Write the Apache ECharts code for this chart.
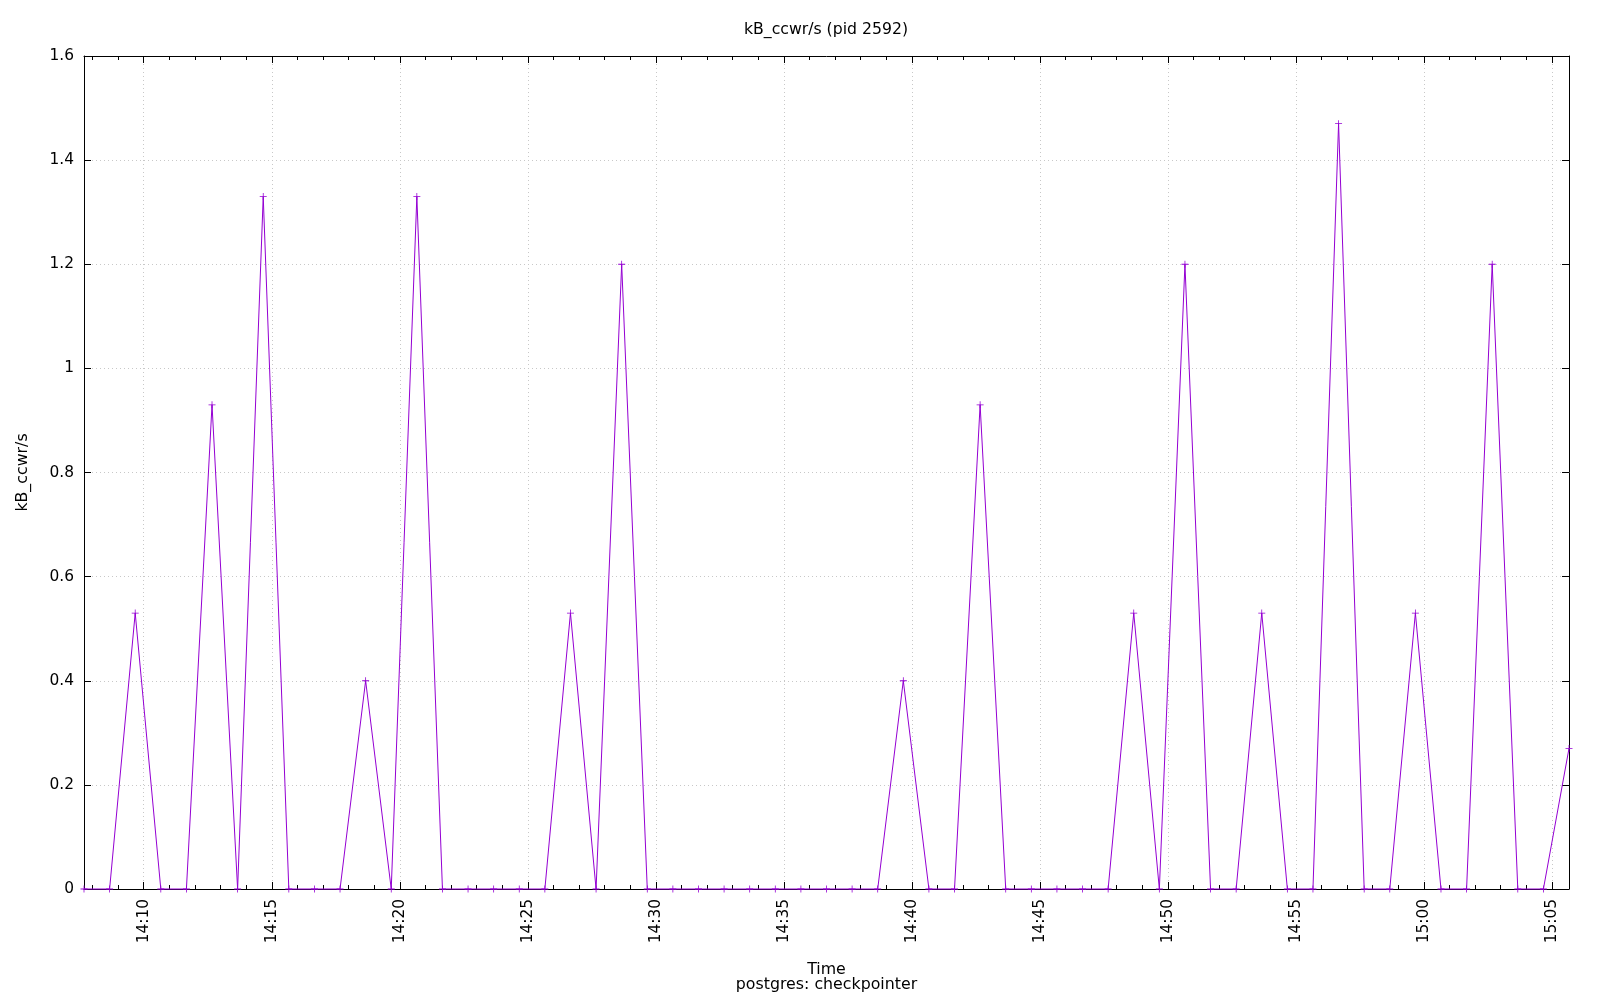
<!DOCTYPE html>
<html>
<head>
<meta charset="utf-8">
<script src="https://cdn.jsdelivr.net/npm/echarts@6/dist/echarts.min.js"></script>
<style>html,body{margin:0;padding:0;background:#fff}#c{width:1600px;height:1000px}</style>
</head>
<body>
<div id="c"></div>
<script>
const times = [
  '14:07:40','14:08:40','14:09:40','14:10:40','14:11:40','14:12:40','14:13:40','14:14:40','14:15:40','14:16:40',
  '14:17:40','14:18:40','14:19:40','14:20:40','14:21:40','14:22:40','14:23:40','14:24:40','14:25:40','14:26:40',
  '14:27:40','14:28:40','14:29:40','14:30:40','14:31:40','14:32:40','14:33:40','14:34:40','14:35:40','14:36:40',
  '14:37:40','14:38:40','14:39:40','14:40:40','14:41:40','14:42:40','14:43:40','14:44:40','14:45:40','14:46:40',
  '14:47:40','14:48:40','14:49:40','14:50:40','14:51:40','14:52:40','14:53:40','14:54:40','14:55:40','14:56:40',
  '14:57:40','14:58:40','14:59:40','15:00:40','15:01:40','15:02:40','15:03:40','15:04:40','15:05:40'
];
const kBccwr = [
  0, 0, 0.53, 0, 0, 0.93, 0, 1.33, 0, 0,
  0, 0.40, 0, 1.33, 0, 0, 0, 0, 0, 0.53,
  0, 1.20, 0, 0, 0, 0, 0, 0, 0, 0,
  0, 0, 0.40, 0, 0, 0.93, 0, 0, 0, 0,
  0, 0.53, 0, 1.20, 0, 0, 0.53, 0, 0, 1.47,
  0, 0, 0.53, 0, 0, 1.20, 0, 0, 0.27
];
const xTickLabels = ['14:10','14:15','14:20','14:25','14:30','14:35','14:40','14:45','14:50','14:55','15:00','15:05'];
const yTicks = [0, 0.2, 0.4, 0.6, 0.8, 1, 1.2, 1.4, 1.6];

function toMin(s) {
  const p = s.split(':').map(Number);
  return p[0] * 60 + p[1] + (p[2] || 0) / 60;
}
function fmt(v) {
  const t = Math.round(v);
  const h = Math.floor(t / 60), m = t % 60;
  return String(h).padStart(2, '0') + ':' + String(m).padStart(2, '0');
}
const xMin = toMin(times[0]);
const xMax = toMin(times[times.length - 1]);
const majorX = xTickLabels.map(toMin);
const minorX = [];
for (let m = Math.ceil(xMin); m <= Math.floor(xMax); m++) minorX.push(m);

const data = times.map((t, i) => [toMin(t), kBccwr[i]]);
const FONT = 'DejaVu Sans';
const grid = { left: 84, right: 31, top: 56, bottom: 111 };
const lineStyle = { color: '#000', width: 1 };

const chart = echarts.init(document.getElementById('c'), null, { renderer: 'canvas' });
chart.setOption({
  backgroundColor: '#fff',
  animation: false,
  title: {
    text: 'kB_ccwr/s (pid 2592)',
    left: 821, top: 17, textAlign: 'center',
    textStyle: { fontFamily: FONT, fontSize: 15.7, fontWeight: 'normal', color: '#000' }
  },
  grid: grid,
  xAxis: [
    {
      type: 'value', min: xMin, max: xMax, position: 'bottom',
      name: 'Time\npostgres: checkpointer', nameLocation: 'middle', nameGap: 73,
      nameTextStyle: { fontFamily: FONT, fontSize: 15.8, color: '#000', lineHeight: 15 },
      axisLine: { show: true, onZero: false, lineStyle: lineStyle },
      axisTick: { show: true, inside: true, length: 7, lineStyle: lineStyle, customValues: majorX },
      axisLabel: { show: true, rotate: 90, margin: 10, fontFamily: FONT, fontSize: 15.4, color: '#000',
        customValues: majorX, formatter: v => fmt(v) },
      splitLine: { show: true, lineStyle: { color: '#c8c8c8', width: 1, type: [1, 3] } }
    },
    {
      type: 'value', min: xMin, max: xMax, position: 'bottom',
      axisLine: { show: false, onZero: false },
      axisTick: { show: true, inside: true, length: 4, lineStyle: lineStyle, customValues: minorX },
      axisLabel: { show: false, customValues: minorX },
      splitLine: { show: false }
    },
    {
      type: 'value', min: xMin, max: xMax, position: 'top',
      axisLine: { show: true, onZero: false, lineStyle: lineStyle },
      axisTick: { show: true, inside: true, length: 7, lineStyle: lineStyle, customValues: majorX },
      axisLabel: { show: false, customValues: majorX },
      splitLine: { show: false }
    },
    {
      type: 'value', min: xMin, max: xMax, position: 'top',
      axisLine: { show: false, onZero: false },
      axisTick: { show: true, inside: true, length: 4, lineStyle: lineStyle, customValues: minorX },
      axisLabel: { show: false, customValues: minorX },
      splitLine: { show: false }
    }
  ],
  yAxis: [
    {
      type: 'value', min: 0, max: 1.6, interval: 0.2, position: 'left',
      name: 'kB_ccwr/s', nameLocation: 'middle', nameGap: 53, nameRotate: 90,
      nameTextStyle: { fontFamily: FONT, fontSize: 15.8, color: '#000' },
      axisLine: { show: true, onZero: false, lineStyle: lineStyle },
      axisTick: { show: true, inside: true, length: 7, lineStyle: lineStyle, customValues: yTicks },
      axisLabel: { show: true, margin: 10, fontFamily: FONT, fontSize: 15.4, color: '#000', customValues: yTicks },
      splitLine: { show: true, lineStyle: { color: '#c8c8c8', width: 1, type: [1, 3] } }
    },
    {
      type: 'value', min: 0, max: 1.6, interval: 0.2, position: 'right',
      axisLine: { show: true, onZero: false, lineStyle: lineStyle },
      axisTick: { show: true, inside: true, length: 7, lineStyle: lineStyle, customValues: yTicks },
      axisLabel: { show: false },
      splitLine: { show: false }
    }
  ],
  series: [{
    type: 'line',
    xAxisIndex: 0, yAxisIndex: 0,
    data: data,
    showSymbol: true, showAllSymbol: true,
    symbol: 'path://M4,0h1v4h4v1h-4v4h-1v-4h-4v-1h4z',
    symbolSize: 7,
    itemStyle: { color: '#9400D3' },
    lineStyle: { color: '#9400D3', width: 1 },
    clip: false
  }]
});
</script>
</body>
</html>
